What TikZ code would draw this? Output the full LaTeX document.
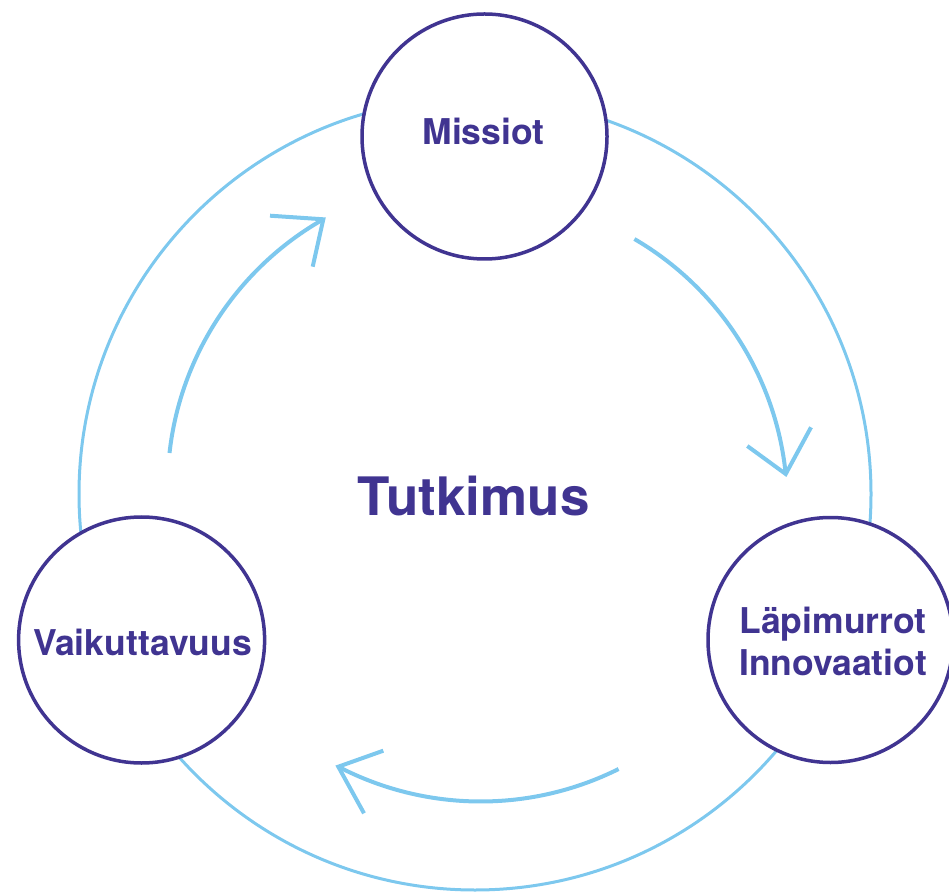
\documentclass[tikz,border=0pt]{standalone}
\usepackage{fontspec}
\setmainfont{TeX Gyre Heros}
\definecolor{deep}{RGB}{64,52,145}
\definecolor{sky}{RGB}{125,200,238}
\begin{document}
\begin{tikzpicture}[x=1pt,y=1pt,
  bigring/.style={draw=sky,line width=3pt},
  hub/.style={circle,draw=deep,fill=white,line width=3.5pt,minimum size=245pt,inner sep=0pt},
  flow/.style={draw=sky,line width=4pt},
  barb/.style={draw=sky,line width=4pt,line join=miter},
  small/.style={text=deep,font=\fontsize{35.5}{40}\selectfont\bfseries,anchor=base,inner sep=0pt},
  big/.style={text=deep,font=\fontsize{53}{60}\selectfont\bfseries,anchor=base,inner sep=0pt}]
\useasboundingbox (0,0) rectangle (949,892);
\clip (0,0) rectangle (949,892);
% outer ring
\coordinate (ringc) at (475,398);
\draw[bigring] (ringc) circle[radius=396];
% hubs
\node[hub] (mis) at (484.5,755.5) {};
\node[hub] (lap) at (830.5,252) {};
\node[hub,minimum size=246pt] (vai) at (141.6,252) {};
% labels
\node[small] (mist) at (483.4,747) {Missiot};
\node[small] (lap1) at (833,258.7) {Läpimurrot};
\node[small] (lap2) at (833,216.3) {Innovaatiot};
\node[small] (vait) at (142.5,237) {Vaikuttavuus};
\node[big] (tut) at (473.5,377) {Tutkimus};
% arrows
\coordinate (ls) at (169.5,439);
\coordinate (lt) at (323.3,672.7);
\coordinate (lb1) at (270,676.3);
\coordinate (lb2) at (312.7,625.3);
\coordinate (rs) at (634.4,653);
\coordinate (rt) at (785.7,418);
\coordinate (rb1) at (747.3,446);
\coordinate (rb2) at (811,464.7);
\coordinate (bs) at (618.6,123);
\coordinate (bt) at (338.3,125.3);
\coordinate (bb1) at (383.3,141.3);
\coordinate (bb2) at (364,78.7);
\draw[flow] (ls) to[bend left=27,looseness=0.9] (lt);
\draw[barb] (lb1) -- (lt) -- (lb2);
\draw[flow] (rs) to[bend left=27,looseness=0.9] (rt);
\draw[barb] (rb1) -- (rt) -- (rb2);
\draw[flow] (bs) to[bend left=27,looseness=0.9] (bt);
\draw[barb] (bb1) -- (bt) -- (bb2);
\end{tikzpicture}
\end{document}
